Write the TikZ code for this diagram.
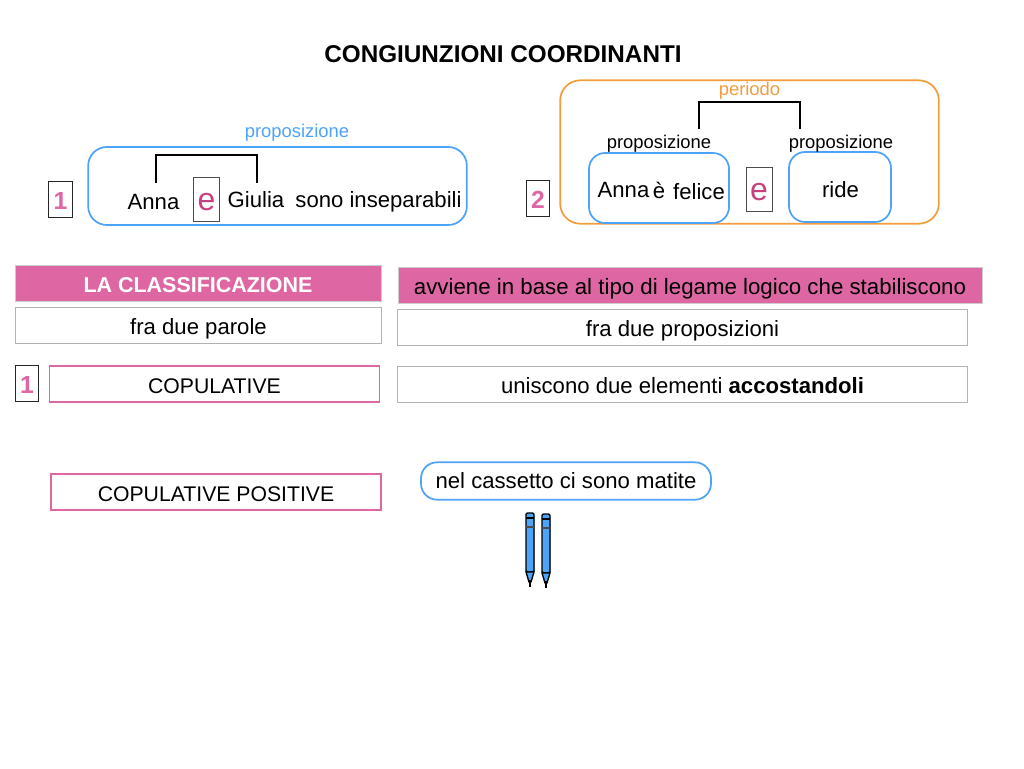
\documentclass[tikz,border=0pt]{standalone}
\usepackage{fontspec}
\setmainfont{Liberation Sans}
\definecolor{pinkbox}{HTML}{DE67A3}
\definecolor{bluebox}{HTML}{4DA3F7}
\definecolor{orangebox}{HTML}{F39C3C}
\definecolor{pinkletter}{HTML}{C7417F}
\tikzset{
  txt/.style={inner sep=0, font=\fontsize{16.6}{18}\selectfont},
  smalltxt/.style={inner sep=0, font=\fontsize{13.8}{15}\selectfont},
  graybox/.style={draw=black!30, line width=.6pt, fill=white, inner sep=0, text height=13.5pt, text depth=0pt, font=\fontsize{16.6}{18}\selectfont},
  pinkfill/.style={draw=black!20, line width=.6pt, fill=pinkbox, inner sep=0, text height=13.5pt, text depth=0pt},
  pinkline/.style={draw=pinkbox, line width=1.3pt, inner sep=0, text height=13.5pt, text depth=0pt, font=\fontsize{15.9}{18}\selectfont},
  numbox/.style={draw=black!85, line width=.7pt, fill=white, text=pinkbox, inner sep=0, minimum width=17.5pt, minimum height=27.5pt, text height=15.7pt, text depth=0pt, font=\fontsize{18.5}{20}\bfseries\selectfont},
  letterbox/.style={draw=black!70, line width=.7pt, fill=white, text=pinkletter, inner sep=0, minimum width=19.5pt, minimum height=33pt, text height=16.5pt, text depth=0pt, font=\fontsize{24}{26}\selectfont},
  roundblue/.style={draw=bluebox, line width=1.3pt, rounded corners=12pt, inner sep=0},
  bracket/.style={black, line width=1.5pt},
}
\begin{document}
\begin{tikzpicture}[x=.75pt,y=-.75pt]
\useasboundingbox (0,0) rectangle (1024,768);

\node[inner sep=0, font=\fontsize{18.2}{20}\bfseries\selectfont] (title) at (503,54) {CONGIUNZIONI COORDINANTI};

% first example
\node[roundblue, minimum width=284pt, minimum height=58.5pt, rounded corners=14pt] (frase) at (277.5,186) {};
\node[smalltxt, text=bluebox] (prop) at (297,132.5) {proposizione};
\node[numbox] (num1) at (60.5,199.5) {1};
\node[txt] (anna) at (153.5,202) {Anna};
\node[letterbox] (e1) at (206.5,199) {e};
\node[txt] (giulia) at (256,199.5) {Giulia};
\node[txt] (sono) at (378.5,201.5) {sono inseparabili};
\coordinate (bra) at (156,183);
\coordinate (brb) at (257,183);
\coordinate (brtop) at (206,155);
\draw[bracket] (bra) |- (brtop) -| (brb);

% second example
\node[draw=orangebox, line width=1.3pt, rounded corners=15pt, inner sep=0, minimum width=284pt, minimum height=107.5pt] (per) at (749.5,152) {};
\node[smalltxt, text=orangebox] (perlab) at (749.5,91) {periodo};
\node[numbox] (num2) at (538,198.5) {2};
\node[roundblue, minimum width=105pt, minimum height=52.5pt] (prima) at (659,188) {};
\node[roundblue, minimum width=76.5pt, minimum height=52.5pt] (seconda) at (840,187) {};
\node[smalltxt] (propa) at (659,144) {proposizione};
\node[smalltxt] (propb) at (841,144) {proposizione};
\node[txt] (anna2) at (623.5,189.5) {Anna};
\node[txt] (verbo) at (659,190) {è};
\node[txt] (felice) at (699,191.5) {felice};
\node[letterbox] (e2) at (759,189) {e};
\node[txt] (ride) at (840.5,190) {ride};
\coordinate (brc) at (699,129);
\coordinate (brd) at (800,129);
\coordinate (brtop2) at (750,102);
\draw[bracket] (brc) |- (brtop2) -| (brd);

% classification table
\node[pinkfill, text=white, minimum width=274.5pt, minimum height=26.5pt, font=\fontsize{16.1}{18}\bfseries\selectfont] (classi) at (198,283.5) {LA CLASSIFICAZIONE};
\node[pinkfill, minimum width=438pt, minimum height=27pt, font=\fontsize{16.7}{18}\selectfont] (avviene) at (690,285) {avviene in base al tipo di legame logico che stabiliscono};
\node[graybox, minimum width=275pt, minimum height=27pt] (parole) at (198.5,325) {fra due parole};
\node[graybox, minimum width=427pt, minimum height=27pt] (frasi) at (682.5,327) {fra due proposizioni};
\node[numbox] (num3) at (27,383.5) {1};
\node[pinkline, minimum width=247.5pt, minimum height=27pt] (copu) at (214.5,384) {COPULATIVE};
\node[graybox, minimum width=427pt, minimum height=27pt] (unisc) at (682.5,384) {uniscono due elementi \textbf{accostandoli}};
\node[pinkline, minimum width=247.5pt, minimum height=27pt] (copos) at (216,492) {COPULATIVE POSITIVE};
\node[roundblue, txt, minimum width=217.5pt, minimum height=28pt] (cass) at (566,481) {nel cassetto ci sono matite};

% pencils
\foreach \x/\y in {530/512,546/513} {
  \fill[black!25] (\x+2,\y+4) rectangle (\x+5,\y+60);
  \draw[black, line width=1pt, fill=bluebox, rounded corners=1pt] (\x-4,\y+4)--(\x-4,\y+1)--(\x+4,\y+1)--(\x+4,\y+60)--(\x-4,\y+60)--cycle;
  \draw[black, line width=1pt] (\x-4,\y+6)--++(8,0);
  \draw[black!70, line width=1pt] (\x-4,\y+15)--++(8,0);
  \draw[black, line width=1pt, fill=bluebox] (\x-4,\y+60)--(\x+4,\y+60)--(\x+1,\y+70)--(\x-1,\y+70)--cycle;
  \draw[black, line width=1.3pt] (\x,\y+68)--(\x,\y+75);
}
\end{tikzpicture}
\end{document}
